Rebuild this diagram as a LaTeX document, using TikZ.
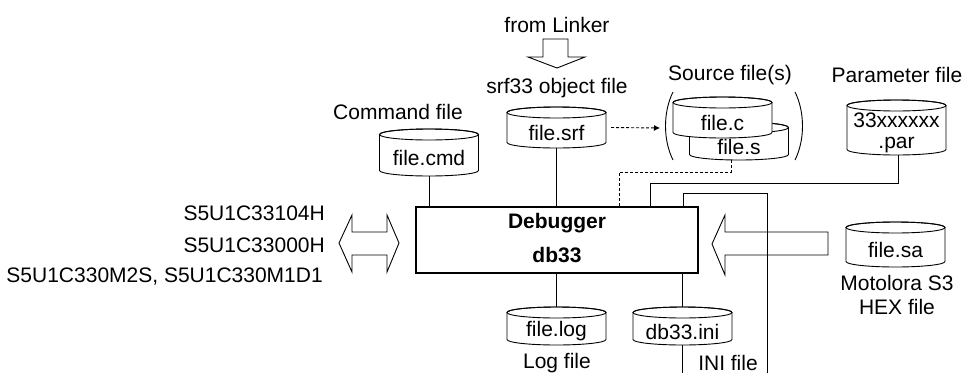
\documentclass[tikz,border=0pt]{standalone}
\usepackage{fontspec}
\setmainfont{Liberation Sans}
\usetikzlibrary{arrows.meta,calc}
\tikzset{
  thin line/.style={line width=0.9pt},
  dotline/.style={line width=0.9pt, dash pattern=on 3pt off 2pt},
  lbl/.style={inner sep=0pt, font=\fontsize{21}{21}\selectfont},
  boldlbl/.style={inner sep=0pt, font=\fontsize{21}{21}\selectfont\bfseries},
  mainbox/.style={draw, line width=1.8pt, minimum width=282pt, minimum height=66pt, inner sep=0pt},
  fatarrow/.style={line width=0.9pt, line join=miter}
}
% name, cx, top, bottom, text
\newcommand{\dbcyl}[5]{%
  \filldraw[thin line, fill=white] (#2-49.5,#3+5.5) -- (#2-49.5,#4-5.5)
    arc[start angle=180,end angle=360,x radius=49.5pt,y radius=5.5pt]
    -- (#2+49.5,#3+5.5)
    arc[start angle=0,end angle=180,x radius=49.5pt,y radius=5.5pt] -- cycle;
  \draw[thin line] (#2,#3+5.5) ellipse[x radius=49.5pt,y radius=5.5pt];
  \node[inner sep=0pt, minimum width=99pt, minimum height={(#4-#3)*1pt}] (#1) at (#2,{(#3+#4)/2}) {};
  \node[lbl, align=center] (#1t) at (#2,{(#3+11+#4)/2}) {#5};
}
\begin{document}
\begin{tikzpicture}[x=1pt,y=-1pt]
\useasboundingbox (0,0) rectangle (967,373);
\coordinate (bot) at (0,373);

% main box
\node[mainbox] (box) at (557,240) {};
\node[boldlbl] (dbg) at (557,223) {Debugger};
\node[boldlbl] (db) at (557,255) {db33};

% top labels
\node[lbl] (fl) at (557,25) {from Linker};
\node[lbl] (srfl) at (557,88) {srf33 object file};
\node[lbl] (cmdl) at (398,112) {Command file};
\node[lbl] (srcl) at (730,75) {Source file(s)};
\node[lbl] (parl) at (897,75) {Parameter file};

% down arrow from linker
\draw[fatarrow] (543,39) -- (568,39) -- (568,57) -- (585,57) -- (557,68) -- (528,57) -- (543,57) -- cycle;

% cylinders
\dbcyl{cmd}{429}{129}{176}{file.cmd}
\dbcyl{srf}{556.5}{107}{148}{file.srf}
\dbcyl{fs}{739}{122}{160}{file.s}
\dbcyl{fc}{722.5}{97}{138}{file.c}
\dbcyl{par}{896.5}{100}{155}{33xxxxxx\\.par}
\dbcyl{log}{556.5}{307}{345}{file.log}
\dbcyl{ini}{682.5}{307}{345}{db33.ini}
\dbcyl{sa}{895.5}{222}{267}{file.sa}

% parentheses around source files
\draw[thin line] (673,92) .. controls (663,112) and (663,140) .. (673,160);
\draw[thin line] (795,92) .. controls (805,112) and (805,140) .. (795,160);

% dotted arrow srf -> source
\coordinate (srcin) at (660,128);
\draw[dotline, -{Latex[length=6pt,width=6pt]}] ([xshift=5pt]srf.east) -- (srcin);

% connectors to box
\draw[thin line] (cmd.south) -- (cmd.south |- box.north);
\draw[thin line] (srf.south) -- (srf.south |- box.north);
\draw[dotline] ([xshift=-8pt]fs.south) -- ++(0,12) -| ([xshift=62pt]box.north);
\draw[thin line] ([xshift=1.5pt]par.south) -- ++(0,28) -| ([xshift=93pt]box.north);
\coordinate (lp) at (767,373);
\draw[thin line] (lp) -- ++(0,-180) -| ([xshift=126pt]box.north);
\draw[thin line] (box.south -| log.north) -- (log.north);
\draw[thin line] (box.south -| ini.north) -- (ini.north);
\draw[thin line] (ini.south) -- (ini.south |- bot);

% bottom labels
\node[lbl] (logl) at (557,363) {Log file};
\node[lbl] (inil) at (728,363) {INI file};
\node[lbl, align=center] (sal) at (897,295) {Motolora S3\\[3pt]HEX file};

% left labels
\node[lbl, anchor=east] (h1) at (325,213) {S5U1C33104H};
\node[lbl, anchor=east] (h2) at (325,245) {S5U1C33000H};
\node[lbl, anchor=east] (h3) at (323,277) {S5U1C330M2S, S5U1C330M1D1};

% double arrow left
\draw[fatarrow] (339,243) -- (352,215) -- (352,232) -- (387,232) -- (387,215) -- (399,243)
  -- (387,272) -- (387,255) -- (352,255) -- (352,272) -- cycle;

% right arrow into box
\draw[fatarrow] (712,244) -- (725,215) -- (725,232) -- (828,232) -- (828,255) -- (725,255) -- (725,275) -- cycle;
\end{tikzpicture}
\end{document}
